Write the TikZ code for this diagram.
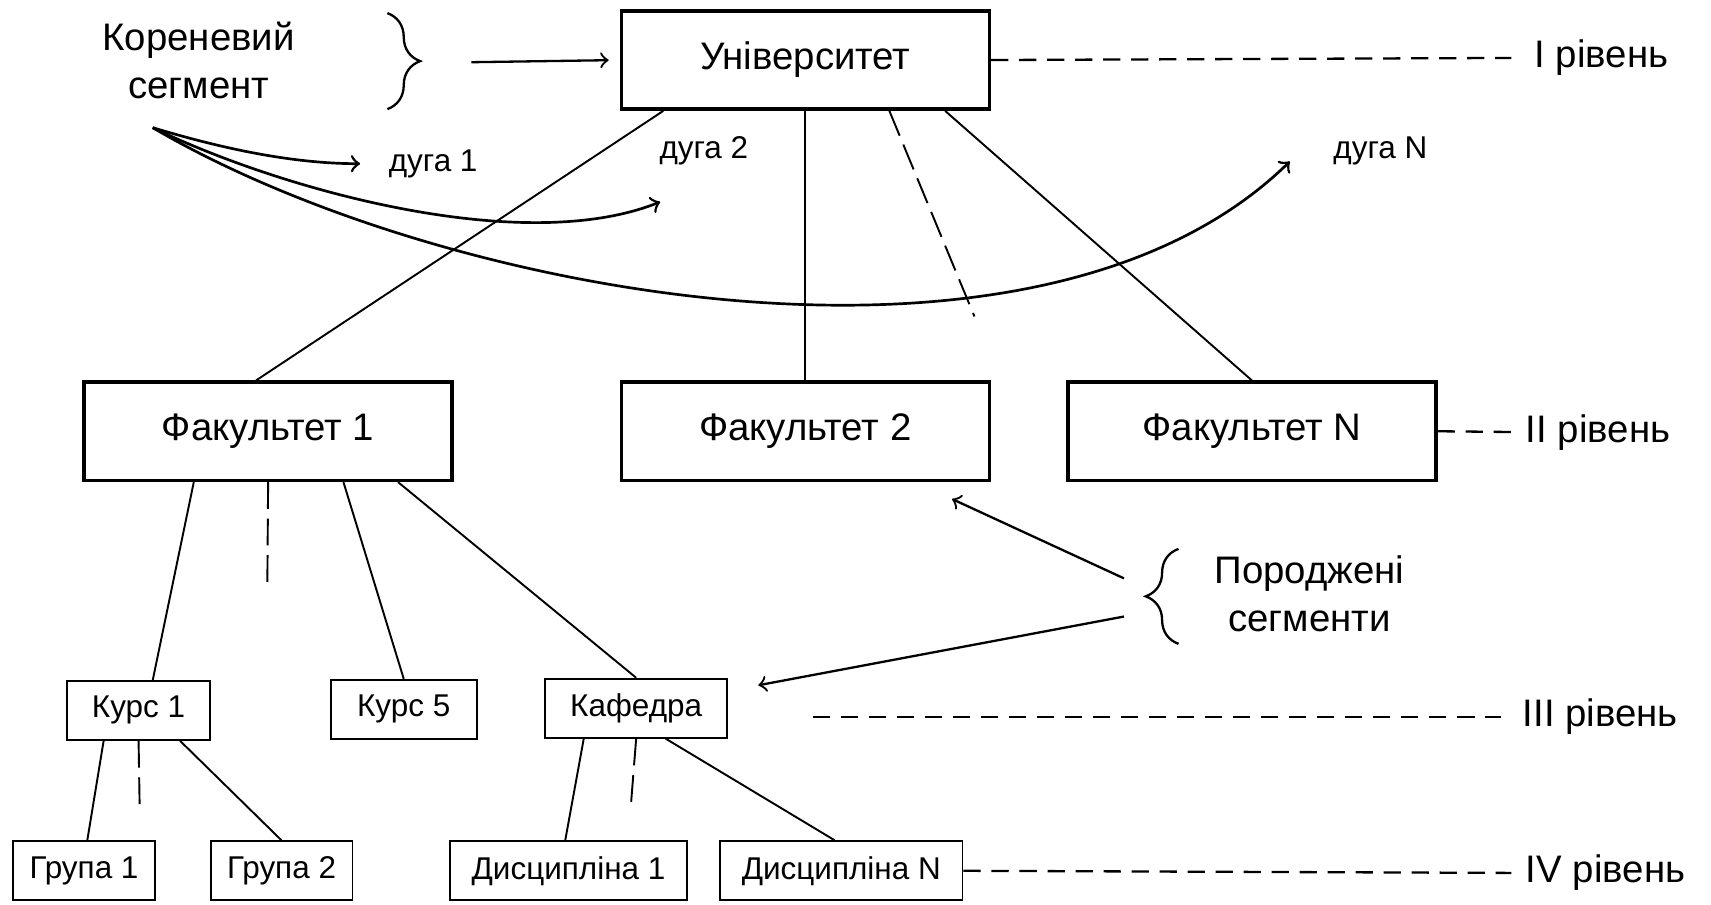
\documentclass[tikz,border=0pt]{standalone}
\usepackage{fontspec}
\setmainfont{Liberation Sans}
\usetikzlibrary{shapes, arrows, positioning, decorations.pathreplacing}

\begin{document}
\begin{tikzpicture}[x=0.01cm, y=-0.01cm, node distance=2cm, auto, thick,
    bigbox/.style={draw, rectangle, line width=0.9pt, minimum width=3.37cm, minimum height=0.9cm, inner sep=0pt, font=\fontsize{10}{12}\selectfont},
    smallbox/.style={draw, rectangle, line width=0.5pt, minimum height=0.54cm, inner sep=0pt, font=\fontsize{8.2}{10}\selectfont},
    plain/.style={inner sep=0pt, font=\fontsize{8.2}{10}\selectfont},
    note/.style={inner sep=0pt, align=center, font=\fontsize{10}{12.5}\selectfont},
    link/.style={line width=0.5pt},
    gap/.style={line width=0.5pt, dash pattern=on 7pt off 2.5pt},
    lvlline/.style={line width=0.6pt, dash pattern=on 4.5pt off 2.8pt},
    lvltext/.style={anchor=west, inner sep=0pt, font=\fontsize{10}{12}\selectfont},
    arc/.style={->, line width=0.7pt},
    curly/.style={decorate, decoration={brace, amplitude=0.3cm}, line width=0.6pt}]
    \useasboundingbox (0,0) rectangle (1568,829);

    % рівні I та II
    \node (univ) [bigbox] at (738,55) {Університет};
    \node (fac2) [bigbox, below of=univ, node distance=3.40cm] {Факультет 2};
    \node (fac1) [bigbox, left of=fac2, node distance=4.92cm] {Факультет 1};
    \node (facN) [bigbox, right of=fac2, node distance=4.09cm] {Факультет N};

    % рівні III та IV
    \node (kurs1) [smallbox, minimum width=1.31cm] at (127,651) {Курс 1};
    \node (kurs5) [smallbox, minimum width=1.34cm] at (370,650) {Курс 5};
    \node (kaf) [smallbox, minimum width=1.67cm] at (583,649) {Кафедра};
    \node (grp1) [smallbox, minimum width=1.30cm] at (77,798) {Група 1};
    \node (grp2) [smallbox, minimum width=1.30cm] at (258,798) {Група 2};
    \node (disc1) [smallbox, minimum width=2.17cm] at (521,798) {Дисципліна 1};
    \node (discN) [smallbox, minimum width=2.22cm] at (771,798) {Дисципліна N};

    % зв'язки
    \draw[link] ([xshift=0.4cm]univ.south west) -- ([xshift=-0.11cm]fac1.north);
    \draw[link] (univ.south) -- (fac2.north);
    \draw[link] ([xshift=-0.42cm]univ.south east) -- (facN.north);
    \draw[link] ([xshift=1.02cm]fac1.south west) -- ([xshift=0.13cm]kurs1.north);
    \draw[link] ([xshift=0.69cm]fac1.south) -- (kurs5.north);
    \draw[link] ([xshift=1.19cm]fac1.south) -- (kaf.north);
    \draw[link] ([xshift=-0.32cm]kurs1.south) -- ([xshift=0.03cm]grp1.north);
    \draw[link] ([xshift=0.38cm]kurs1.south) -- (grp2.north);
    \draw[link] ([xshift=-0.48cm]kaf.south) -- ([xshift=-0.03cm]disc1.north);
    \draw[link] ([xshift=0.27cm]kaf.south) -- ([xshift=-0.06cm]discN.north);

    % пропущені гілки
    \coordinate (univgap) at (893,290);
    \coordinate (fac1gap) at (245,535);
    \coordinate (kurs1gap) at (128,740);
    \coordinate (kafgap) at (578,740);
    \draw[gap] ([xshift=0.77cm]univ.south) -- (univgap);
    \draw[gap] (fac1.south) -- (fac1gap);
    \draw[gap] (kurs1.south) -- (kurs1gap);
    \draw[gap] (kaf.south) -- (kafgap);

    % рівні
    \node (lvl1) [lvltext] at (1405,53) {I рівень};
    \node (lvl2) [lvltext] at (1397,396) {II рівень};
    \node (lvl3) [lvltext] at (1394,657) {III рівень};
    \node (lvl4) [lvltext] at (1397,800) {IV рівень};
    \coordinate (lvl3start) at (745,657);
    \draw[lvlline, shorten >=0.2cm] (univ.east) -- (lvl1.west);
    \draw[lvlline, shorten >=0.12cm] (facN.east) -- (lvl2.west);
    \draw[lvlline, shorten >=0.18cm] (lvl3start) -- (lvl3.west);
    \draw[lvlline, shorten >=0.12cm] (discN.east) -- (lvl4.west);

    % кореневий сегмент
    \node (root) [note] at (182,55) {Кореневий\\сегмент};
    \draw[curly] (355,12) -- (355,100);
    \coordinate (rootarr) at (432,57);
    \draw[->, line width=0.6pt, shorten >=0.1cm] (rootarr) -- (univ.west);

    % дуги
    \coordinate (arcstart) at (140,117);
    \coordinate (arc1end) at (330,150);
    \coordinate (arc2end) at (605,185);
    \coordinate (arcNend) at (1182,148);
    \draw[arc] (arcstart) .. controls (190,132) and (260,150) .. (arc1end);
    \draw[arc] (arcstart) .. controls (260,175) and (480,235) .. (arc2end);
    \draw[arc] (arcstart) .. controls (400,270) and (950,375) .. (arcNend);
    \node (d1) [plain] at (397,150) {дуга 1};
    \node (d2) [plain] at (645,138) {дуга 2};
    \node (dN) [plain] at (1265,138) {дуга N};

    % породжені сегменти
    \node (gen) [note] at (1200,544) {Породжені\\сегменти};
    \draw[curly] (1080,590) -- (1080,503);
    \coordinate (gen1) at (1030,530);
    \coordinate (gen2) at (1030,565);
    \draw[->, line width=0.6pt, shorten >=0.37cm] (gen1) -- (fac2);
    \draw[->, line width=0.6pt, shorten >=0.28cm] (gen2) -- (kaf);
\end{tikzpicture}
\end{document}
